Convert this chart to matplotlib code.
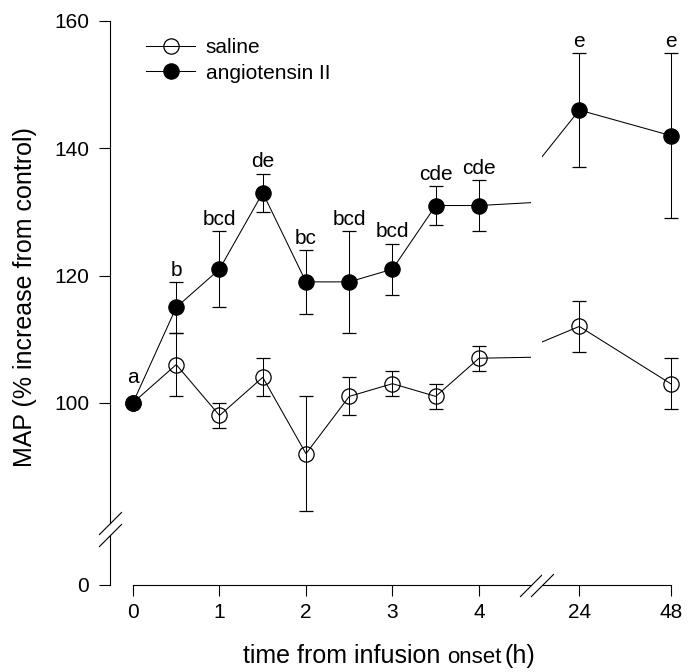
import numpy as np
import matplotlib
matplotlib.use('Agg')
import matplotlib.pyplot as plt

plt.rcParams['font.family'] = ['Liberation Sans', 'DejaVu Sans']

# values (MAP, % of control)
hours = [0, 0.5, 1, 1.5, 2, 2.5, 3, 3.5, 4, 24, 48]
saline = [100, 106, 98, 104, 92, 101, 103, 101, 107, 112, 103]
saline_err = [0, 5, 2, 3, 9, 3, 2, 2, 2, 4, 4]
ang = [100, 115, 121, 133, 119, 119, 121, 131, 131, 146, 142]
ang_err = [0, 4, 6, 3, 5, 8, 4, 3, 4, 9, 13]
ang_letters = ['a', 'b', 'bcd', 'de', 'bc', 'bcd', 'bcd', 'cde', 'cde', 'e', 'e']
yticks = [0, 100, 120, 140, 160]

W, H = 693, 672


# squeeze everything below 80 so that 0 sits just under the axis break
def fwd(v):
    v = np.asarray(v, dtype=float)
    return np.where(v >= 80, v, 80 - (80 - v) * 0.108)


def inv(u):
    u = np.asarray(u, dtype=float)
    return np.where(u >= 80, u, 80 - (80 - u) / 0.108)


def px_rect(x0, x1, y_top, y_bot):
    return [x0 / W, 1 - y_bot / H, (x1 - x0) / W, (y_bot - y_top) / H]


fig = plt.figure(figsize=(W / 100, H / 100), dpi=100)
ax1 = fig.add_axes(px_rect(110, 530.7, 21, 585))
ax2 = fig.add_axes(px_rect(541.7, 682.1, 21, 585), sharey=ax1)

style = dict(color='black', lw=0.75, marker='o', ms=11, mew=0.9,
             capsize=4.7, capthick=0.75, elinewidth=0.75)
slash = [(-1, -1), (1, 1)]

for ax in (ax1, ax2):
    c_sal = ax.errorbar(hours, saline, yerr=saline_err, mfc='none', mec='black', **style)
    c_ang = ax.errorbar(hours, ang, yerr=ang_err, mfc='black', mec='black', **style)
    ax.set_yscale('function', functions=(fwd, inv))
    ax.set_ylim(0, 160)
    for side in ('top', 'right', 'left'):
        ax.spines[side].set_visible(False)
    ax.spines['bottom'].set_linewidth(0.8)
    ax.tick_params(direction='out', length=8, width=0.8, labelsize=15, pad=5)
    if ax is ax1:
        legend_handles = [c_sal[0], c_ang[0]]

ax1.set_xlim(-0.266, 4.598)
ax2.set_xlim(14.13, 51)
ax1.spines['bottom'].set_bounds(0, 4.598)
ax2.spines['bottom'].set_bounds(14.13, 48)
ax1.set_xticks([0, 1, 2, 3, 4])
ax2.set_xticks([24, 48])
ax1.set_yticks(yticks)
ax1.set_yticklabels([str(t) for t in yticks])
ax1.yaxis.set_minor_locator(plt.NullLocator())
ax1.tick_params(axis='y', pad=7)
ax2.tick_params(axis='y', left=False, labelleft=False)

# y axis line with a break
ax1.plot([0, 0], [1, 0.1094], transform=ax1.transAxes, color='black', lw=0.8, clip_on=False)
ax1.plot([0, 0], [0.0878, 0], transform=ax1.transAxes, color='black', lw=0.8, clip_on=False)
ax1.plot([0, 0], [0.1094, 0.0878], transform=ax1.transAxes, ls='none', marker=slash,
         ms=16.5, mew=0.8, color='black', clip_on=False)
# x axis break marks
ax1.plot([1], [0], transform=ax1.transAxes, ls='none', marker=slash,
         ms=16.5, mew=0.8, color='black', clip_on=False)
ax2.plot([0], [0], transform=ax2.transAxes, ls='none', marker=slash,
         ms=16.5, mew=0.8, color='black', clip_on=False)

# significance letters above the angiotensin points
for x, y, e, s in zip(hours, ang, ang_err, ang_letters):
    ax = ax1 if x <= 4 else ax2
    off = 4.5 if e > 0 else 14.5
    ax.annotate(s, (x, y + e), xytext=(0, off), textcoords='offset points',
                ha='center', va='baseline', fontsize=15)

ax1.legend(legend_handles, ['saline', 'angiotensin II'], loc='upper left',
           bbox_to_anchor=(0.0856, 0.9697), frameon=False, fontsize=15,
           handlelength=2.36, handletextpad=0.5, labelspacing=0.31,
           borderpad=0, borderaxespad=0, numpoints=1)

ax1.set_ylabel('MAP (% increase from control)', fontsize=18)
ax1.yaxis.set_label_coords(-0.1735, 0.5106)

# x label, with "onset" set a little smaller as in the original
fig.canvas.draw()
renderer = fig.canvas.get_renderer()
x_px = 243
for part, size, gap in [('time from infusion', 18, 7), ('onset', 16, 3), ('(h)', 18, 0)]:
    t = fig.text(x_px / W, 1 - 663 / H, part, fontsize=size, va='baseline')
    x_px = t.get_window_extent(renderer).x1 + gap

fig.savefig('out.png', dpi=100)
